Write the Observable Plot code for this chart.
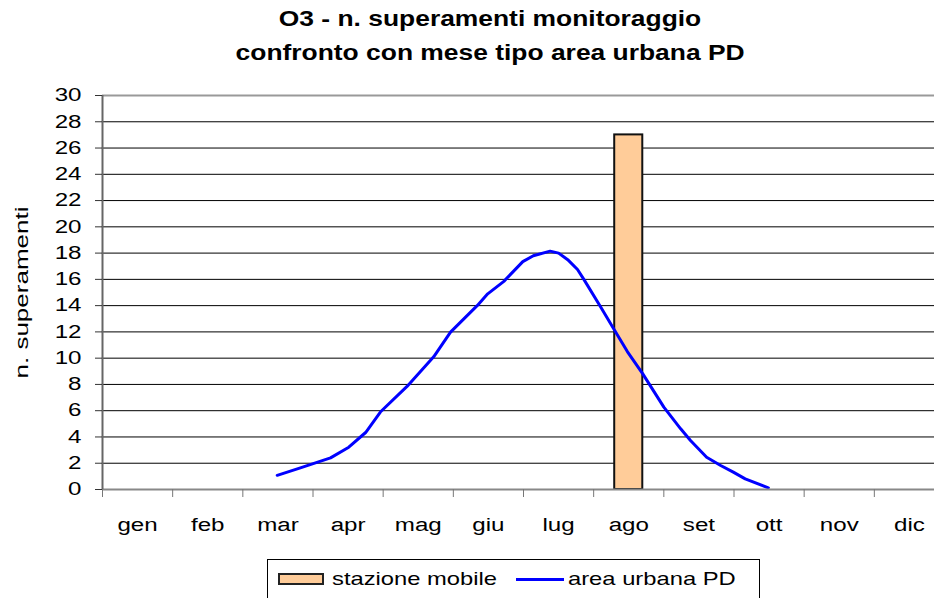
<!DOCTYPE html>
<html>
<head>
<meta charset="utf-8">
<script src="https://cdn.jsdelivr.net/npm/d3@7"></script>
<script src="https://cdn.jsdelivr.net/npm/@observablehq/plot@0.6"></script>
<style>
  html, body { margin: 0; padding: 0; background: #fff; overflow: hidden; }
  body { width: 934px; height: 598px; position: relative; font-family: "Liberation Sans", Arial, sans-serif; }
  #title { width: 980px; height: 80px; text-align: center; font-weight: bold; font-size: 22px; line-height: 34px; padding-top: 2px; box-sizing: border-box; color: #000; }
  #title span { display: inline-block; transform: scaleX(1.2); transform-origin: center; white-space: nowrap; }
  #chart svg { display: block; overflow: visible; max-width: none !important; }
  #legend { position: absolute; left: 267px; top: 559px; width: 493px; height: 50px; border: 1px solid #000; box-sizing: border-box; font-size: 19px; color: #000; }
  #legend .item { position: absolute; top: 8px; line-height: 22px; white-space: nowrap; transform: scaleX(1.25); transform-origin: left center; }
</style>
</head>
<body>
<div id="title"><span>O3 - n. superamenti monitoraggio</span><br><span>confronto con mese tipo area urbana PD</span></div>
<div id="chart"></div>
<div id="legend">
  <span style="position:absolute; left:10px; top:13px; width:46px; height:12px; background:#FFCC99; border:2px solid #222; box-sizing:border-box;"></span>
  <span class="item" style="left:64px;">stazione mobile</span>
  <span style="position:absolute; left:248px; top:18px; width:48px; height:3px; background:#0000FF;"></span>
  <span class="item" style="left:300px;">area urbana PD</span>
</div>
<script>
// Categories
const months = ["gen", "feb", "mar", "apr", "mag", "giu", "lug", "ago", "set", "ott", "nov", "dic"];
// Y axis tick values
const yTicks = [0, 2, 4, 6, 8, 10, 12, 14, 16, 18, 20, 22, 24, 26, 28, 30];
// Series "stazione mobile" (bars): month and value
const barMonths = ["ago"];
const barValues = [27];
// Series "area urbana PD" (line): position along months (0 = start of gen, 12 = end of dic) and value
const lineMonthPos = [2.49, 2.82, 3.25, 3.51, 3.75, 3.96, 4.34, 4.72, 4.96, 5.34, 5.49, 5.72, 5.99, 6.14, 6.38, 6.50, 6.63, 6.77, 6.86, 7.10, 7.30, 7.48, 7.70, 8.00, 8.24, 8.38, 8.61, 8.81, 8.99, 9.16, 9.49];
const lineValues   = [1.08, 1.65, 2.41, 3.22, 4.34, 5.9, 7.85, 10.1, 11.98, 14.0, 14.9, 15.85, 17.35, 17.8, 18.15, 18.0, 17.5, 16.75, 16.0, 13.9, 12.1, 10.5, 8.8, 6.27, 4.62, 3.73, 2.46, 1.83, 1.32, 0.81, 0.13];
const yLabel = "n. superamenti";

const bars = barMonths.map((m, i) => ({idx: months.indexOf(m), value: barValues[i]}));
const line = lineMonthPos.map((p, i) => ({pos: p, value: lineValues[i]}));
const monthData = months.map((m, i) => ({name: m, center: i + 0.5}));
const boundaries = d3.range(0, months.length + 1);

const chart = Plot.plot({
  width: 950,
  height: 469,
  marginLeft: 102,
  marginRight: 6,
  marginTop: 15,
  marginBottom: 60,
  style: {fontFamily: "'Liberation Sans', Arial, sans-serif", fontSize: "18px", color: "#000", background: "#fff", maxWidth: "none"},
  x: {type: "linear", domain: [0, months.length], axis: null},
  y: {domain: [0, 30], axis: null},
  marks: [
    Plot.ruleY(yTicks.filter(d => d > 0 && d < 30), {stroke: "#000", strokeWidth: 1}),
    Plot.ruleY([30], {stroke: "#999", strokeWidth: 2}),
    Plot.rect(bars, {x1: d => d.idx + 0.3, x2: d => d.idx + 0.7, y1: 0, y2: "value", fill: "#FFCC99", stroke: "#111", strokeWidth: 2}),
    Plot.line(line, {x: "pos", y: "value", stroke: "#0000FF", strokeWidth: 3, curve: "linear"}),
    Plot.ruleY([0], {stroke: "#888", strokeWidth: 2}),
    Plot.ruleX([0], {y1: 0, y2: 30, stroke: "#666", strokeWidth: 2}),
    Plot.axisY({ticks: yTicks, tickSize: 7, tickPadding: 14, stroke: "#333", fill: "#000", fontSize: 18, label: null}),
    Plot.axisX({ticks: boundaries, tickSize: 8, tickFormat: () => "", stroke: "#777", label: null}),
    Plot.text(monthData, {x: "center", y: 0, text: "name", dy: 36, fontSize: 18, fill: "#000"}),
    Plot.text([yLabel], {frameAnchor: "left", dx: -80, rotate: -90, fontSize: 18, fill: "#000"})
  ]
});
document.getElementById("chart").appendChild(chart);

// widen glyphs to match the reference's wide rendering
chart.querySelectorAll("text").forEach(t => {
  const s = t.textContent;
  if (!s) return;
  const L = t.getComputedTextLength();
  if (!L) return;
  if (s === yLabel) {
    const target = 172;
    t.setAttribute("text-anchor", "start");
    t.setAttribute("x", -target / 2);
    t.setAttribute("textLength", target);
    t.setAttribute("lengthAdjust", "spacingAndGlyphs");
    return;
  }
  t.setAttribute("textLength", L * 1.34);
  t.setAttribute("lengthAdjust", "spacingAndGlyphs");
});
</script>
</body>
</html>
